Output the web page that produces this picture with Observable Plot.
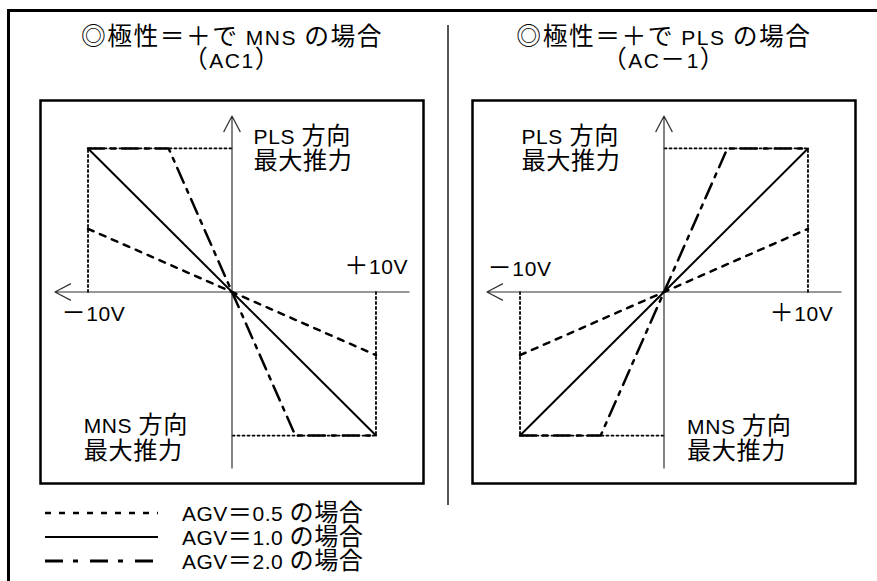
<!DOCTYPE html>
<html>
<head>
<meta charset="utf-8">
<script src="https://cdn.jsdelivr.net/npm/d3@7"></script>
<script src="https://cdn.jsdelivr.net/npm/@observablehq/plot@0.6"></script>
<style>
  html, body { margin: 0; padding: 0; background: #fff; }
  #page { position: relative; width: 877px; height: 581px; overflow: hidden;
          font-family: "Liberation Sans", "Noto Sans CJK JP", sans-serif; }
  #frame { position: absolute; left: 7px; top: 9px; width: 900px; height: 600px;
           border-top: 3px solid #000; border-left: 3px solid #000; box-sizing: border-box; }
  #divider { position: absolute; left: 446.5px; top: 25px; width: 2px; height: 480px; background: #555; }
  #chart { position: absolute; left: 0; top: 0; }
  #legend { position: absolute; left: 45px; top: 501px; font-size: 21px; letter-spacing: 0.5px; color: #000; }
  .row { height: 24px; display: flex; align-items: center; }
  .row svg { display: block; }
  .row span.t { margin-left: 24px; line-height: 24px; white-space: nowrap; }
  .ptitle { letter-spacing: 1.5px; }
  .plabel { letter-spacing: 0.6px; }
</style>
</head>
<body>
<div id="page">
  <div id="frame"></div>
  <div id="divider"></div>
  <div id="chart"></div>
  <div id="legend"></div>
</div>
<script>
// ---------------- data ----------------
const panels = ["MNS", "PLS"];
const panelTitles = ["◎極性＝＋で MNS の場合\n（AC1）", "◎極性＝＋で PLS の場合\n（AC－1）"];
const seriesNames = ["AGV＝0.5 の場合", "AGV＝1.0 の場合", "AGV＝2.0 の場合"];
const seriesKeys = ["0.5", "1.0", "2.0"];

// command voltage (V) vs thrust (% of max thrust)
const volts05 = [-10, 10];
const thrustMNS05 = [44, -44];
const thrustPLS05 = [-44, 44];
const volts10 = [-10, 10];
const thrustMNS10 = [100, -100];
const thrustPLS10 = [-100, 100];
const volts20 = [-10, -4.4, 4.4, 10];
const thrustMNS20 = [100, 100, -100, -100];
const thrustPLS20 = [-100, -100, 100, 100];

// max-thrust guide lines (dotted)
const guideVoltsMNS = [[-10, -10, 0], [10, 10, 0]];
const guideThrustMNS = [[0, 100, 100], [0, -100, -100]];
const guideVoltsPLS = [[10, 10, 0], [-10, -10, 0]];
const guideThrustPLS = [[0, 100, 100], [0, -100, -100]];

// axis extents (V, %)
const axisVolts = 12.3;
const axisThrust = 122.6;

// in-panel labels
const labelTextsMNS = ["PLS 方向\n最大推力", "＋10V", "－10V", "MNS 方向\n最大推力"];
const labelTextsPLS = ["PLS 方向\n最大推力", "－10V", "＋10V", "MNS 方向\n最大推力"];
const labelVoltsMNS = [1.5, 12.24, -11.85, -10.3];
const labelThrustMNS = [100, 18.5, -14.3, -101.5];
const labelAnchorMNS = ["start", "end", "start", "start"];
const labelVoltsPLS = [-9.9, -12.25, 11.76, 1.6];
const labelThrustPLS = [100, 17.2, -14.8, -102];
const labelAnchorPLS = ["start", "start", "end", "start"];

// ---------------- build tables ----------------
function pts(panel, key, xs, ys, group) {
  return xs.map((x, i) => ({panel, key, group: panel + key + (group ?? ""), x, y: ys[i]}));
}
const seriesRows = [
  ...pts("MNS", "0.5", volts05, thrustMNS05), ...pts("PLS", "0.5", volts05, thrustPLS05),
  ...pts("MNS", "1.0", volts10, thrustMNS10), ...pts("PLS", "1.0", volts10, thrustPLS10),
  ...pts("MNS", "2.0", volts20, thrustMNS20), ...pts("PLS", "2.0", volts20, thrustPLS20)
];
const guideRows = [
  ...guideVoltsMNS.flatMap((xs, g) => pts("MNS", "g", xs, guideThrustMNS[g], g)),
  ...guideVoltsPLS.flatMap((xs, g) => pts("PLS", "g", xs, guideThrustPLS[g], g))
];
const axisRows = panels.flatMap(panel => [
  {panel, x1: axisVolts, y1: 0, x2: -axisVolts, y2: 0},
  {panel, x1: 0, y1: -axisThrust, x2: 0, y2: axisThrust}
]);
const labelRows = [
  ...labelTextsMNS.map((t, i) => ({panel: "MNS", text: t, x: labelVoltsMNS[i], y: labelThrustMNS[i], anchor: labelAnchorMNS[i]})),
  ...labelTextsPLS.map((t, i) => ({panel: "PLS", text: t, x: labelVoltsPLS[i], y: labelThrustPLS[i], anchor: labelAnchorPLS[i]}))
];
const titleRows = panels.map((panel, i) => ({panel, text: panelTitles[i]}));

const seriesStyle = {
  "0.5": {strokeWidth: 2.5, strokeDasharray: "6,7"},
  "1.0": {strokeWidth: 2, strokeDasharray: null},
  "2.0": {strokeWidth: 2.5, strokeDasharray: "16,7,4,7"}
};
const legendStyle = {
  "0.5": {strokeWidth: 2.5, strokeDasharray: "6,8"},
  "1.0": {strokeWidth: 2, strokeDasharray: null},
  "2.0": {strokeWidth: 3, strokeDasharray: "18,10,5,12"}
};

const font = "'Liberation Sans', 'Noto Sans CJK JP', sans-serif";

const textMarks = ["start", "end"].map(anchor =>
  Plot.text(labelRows.filter(d => d.anchor === anchor), {
    fx: "panel", x: "x", y: "y", text: "text", textAnchor: anchor,
    lineAnchor: "middle", lineHeight: 1.22, fontSize: 21, fill: "#000", className: "plabel"
  })
);

const chart = Plot.plot({
  width: 877, height: 500,
  marginTop: 100, marginBottom: 17, marginLeft: 40, marginRight: 22,
  fx: {domain: panels, paddingInner: 49 / 432, paddingOuter: 0, axis: null, label: null},
  x: {domain: [-13.3, 13.3], axis: null},
  y: {domain: [-133.4, 133.4], axis: null},
  style: {fontFamily: font, background: "transparent", overflow: "visible"},
  marks: [
    Plot.frame({stroke: "#000", strokeWidth: 2.5}),
    Plot.line(guideRows, {fx: "panel", x: "x", y: "y", z: "group", stroke: "#000", strokeWidth: 1.8, strokeDasharray: "2,3"}),
    Plot.arrow(axisRows, {fx: "panel", x1: "x1", y1: "y1", x2: "x2", y2: "y2", stroke: "#333", strokeWidth: 1.2, headLength: 22, headAngle: 55}),
    ...seriesKeys.map(k => Plot.line(seriesRows.filter(d => d.key === k), {
      fx: "panel", x: "x", y: "y", z: "group", stroke: "#000", ...seriesStyle[k]
    })),
    ...textMarks,
    Plot.text(titleRows, {fx: "panel", x: () => 0, text: "text", frameAnchor: "top", dy: -51,
      lineAnchor: "middle", lineHeight: 1.08, fontSize: 21, fill: "#000", className: "ptitle"})
  ]
});
document.getElementById("chart").append(chart);

// Japanese glyphs are set a little larger than the Latin ones, as in the original typesetting
const cjk = /[\u25CE\u3000-\u30FF\u4E00-\u9FFF\uFF00-\uFFEF]+/g;
function runs(str) {
  const out = []; let last = 0; let m;
  cjk.lastIndex = 0;
  while ((m = cjk.exec(str))) {
    if (m.index > last) out.push([str.slice(last, m.index), false]);
    out.push([m[0], true]);
    last = m.index + m[0].length;
  }
  if (last < str.length) out.push([str.slice(last), false]);
  return out;
}
const ns = "http://www.w3.org/2000/svg";
chart.querySelectorAll("text").forEach(t => {
  const isTitle = !!t.closest(".ptitle");
  const targets = t.querySelector("tspan") ? [...t.querySelectorAll("tspan")] : [t];
  targets.forEach(node => {
    const s = node.textContent;
    node.textContent = "";
    runs(s).forEach(([str, big]) => {
      const sp = document.createElementNS(ns, "tspan");
      if (big) sp.setAttribute("font-size", isTitle ? "1.18em" : "1.15em");
      sp.textContent = str;
      node.append(sp);
    });
  });
});

// ---------------- legend ----------------
const legend = document.getElementById("legend");
seriesKeys.forEach((k, i) => {
  const row = document.createElement("div");
  row.className = "row";
  const svg = document.createElementNS(ns, "svg");
  svg.setAttribute("width", 113); svg.setAttribute("height", 24);
  const line = document.createElementNS(ns, "line");
  line.setAttribute("x1", 0); line.setAttribute("x2", 113);
  line.setAttribute("y1", 12); line.setAttribute("y2", 12);
  line.setAttribute("stroke", "#000");
  line.setAttribute("stroke-width", legendStyle[k].strokeWidth);
  if (legendStyle[k].strokeDasharray) line.setAttribute("stroke-dasharray", legendStyle[k].strokeDasharray);
  svg.append(line);
  const span = document.createElement("span");
  span.className = "t";
  runs(seriesNames[i]).forEach(([str, big]) => {
    const s = document.createElement("span");
    if (big) s.style.fontSize = "1.15em";
    s.textContent = str;
    span.append(s);
  });
  row.append(svg, span);
  legend.append(row);
});
</script>
</body>
</html>
